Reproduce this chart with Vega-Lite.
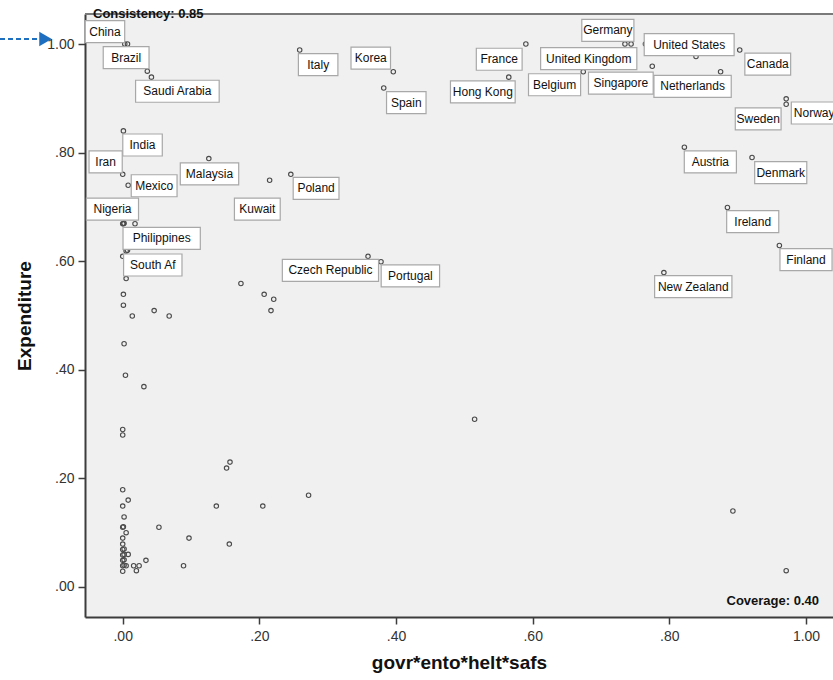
{
  "$schema": "https://vega.github.io/schema/vega-lite/v6.json",
  "width": 748,
  "height": 603,
  "autosize": {"type": "none"},
  "padding": {"left": 85, "top": 14, "right": 0, "bottom": 63},
  "background": "white",
  "config": {
    "view": {"fill": "#f0f0f0", "stroke": null},
    "font": "Liberation Sans"
  },
  "data": {"values": [
    {"country": "China", "govr_ento_helt_safs": 0.003, "expenditure": 1.0, "label_x": -0.026, "label_y": 1.023},
    {"country": "Brazil", "govr_ento_helt_safs": 0.007, "expenditure": 1.0, "label_x": 0.005, "label_y": 0.975},
    {"country": "Saudi Arabia", "govr_ento_helt_safs": 0.042, "expenditure": 0.939, "label_x": 0.080, "label_y": 0.913},
    {"country": "", "govr_ento_helt_safs": 0.036, "expenditure": 0.950},
    {"country": "India", "govr_ento_helt_safs": 0.001, "expenditure": 0.840, "label_x": 0.029, "label_y": 0.814},
    {"country": "Iran", "govr_ento_helt_safs": 0.0, "expenditure": 0.760, "label_x": -0.025, "label_y": 0.783},
    {"country": "Mexico", "govr_ento_helt_safs": 0.008, "expenditure": 0.740, "label_x": 0.046, "label_y": 0.739},
    {"country": "Malaysia", "govr_ento_helt_safs": 0.126, "expenditure": 0.789, "label_x": 0.127, "label_y": 0.761},
    {"country": "Kuwait", "govr_ento_helt_safs": 0.215, "expenditure": 0.749, "label_x": 0.197, "label_y": 0.696},
    {"country": "Nigeria", "govr_ento_helt_safs": 0.001, "expenditure": 0.669, "label_x": -0.015, "label_y": 0.696},
    {"country": "Philippines", "govr_ento_helt_safs": 0.018, "expenditure": 0.669, "label_x": 0.057, "label_y": 0.642},
    {"country": "South Af", "govr_ento_helt_safs": 0.005, "expenditure": 0.619, "label_x": 0.044, "label_y": 0.593},
    {"country": "Italy", "govr_ento_helt_safs": 0.259, "expenditure": 0.989, "label_x": 0.286, "label_y": 0.962},
    {"country": "Korea", "govr_ento_helt_safs": 0.396, "expenditure": 0.949, "label_x": 0.363, "label_y": 0.974},
    {"country": "Spain", "govr_ento_helt_safs": 0.382, "expenditure": 0.919, "label_x": 0.415, "label_y": 0.892},
    {"country": "France", "govr_ento_helt_safs": 0.590, "expenditure": 1.0, "label_x": 0.551, "label_y": 0.972},
    {"country": "Hong Kong", "govr_ento_helt_safs": 0.565, "expenditure": 0.939, "label_x": 0.527, "label_y": 0.912},
    {"country": "Poland", "govr_ento_helt_safs": 0.246, "expenditure": 0.760, "label_x": 0.283, "label_y": 0.734},
    {"country": "Germany", "govr_ento_helt_safs": 0.744, "expenditure": 1.0, "label_x": 0.710, "label_y": 1.025},
    {"country": "United Kingdom", "govr_ento_helt_safs": 0.735, "expenditure": 1.0, "label_x": 0.682, "label_y": 0.973},
    {"country": "Belgium", "govr_ento_helt_safs": 0.674, "expenditure": 0.949, "label_x": 0.632, "label_y": 0.925},
    {"country": "Singapore", "govr_ento_helt_safs": 0.775, "expenditure": 0.959, "label_x": 0.729, "label_y": 0.928},
    {"country": "United States", "govr_ento_helt_safs": 0.765, "expenditure": 1.0, "label_x": 0.829, "label_y": 0.999},
    {"country": "", "govr_ento_helt_safs": 0.839, "expenditure": 0.977},
    {"country": "Canada", "govr_ento_helt_safs": 0.903, "expenditure": 0.989, "label_x": 0.944, "label_y": 0.963},
    {"country": "Netherlands", "govr_ento_helt_safs": 0.875, "expenditure": 0.949, "label_x": 0.834, "label_y": 0.922},
    {"country": "Norway", "govr_ento_helt_safs": 0.971, "expenditure": 0.899, "label_x": 1.012, "label_y": 0.873},
    {"country": "Sweden", "govr_ento_helt_safs": 0.971, "expenditure": 0.889, "label_x": 0.930, "label_y": 0.862},
    {"country": "Austria", "govr_ento_helt_safs": 0.822, "expenditure": 0.810, "label_x": 0.860, "label_y": 0.783},
    {"country": "Denmark", "govr_ento_helt_safs": 0.921, "expenditure": 0.791, "label_x": 0.963, "label_y": 0.763},
    {"country": "Ireland", "govr_ento_helt_safs": 0.885, "expenditure": 0.699, "label_x": 0.922, "label_y": 0.673},
    {"country": "Finland", "govr_ento_helt_safs": 0.961, "expenditure": 0.629, "label_x": 1.000, "label_y": 0.603},
    {"country": "New Zealand", "govr_ento_helt_safs": 0.792, "expenditure": 0.579, "label_x": 0.835, "label_y": 0.553},
    {"country": "Czech Republic", "govr_ento_helt_safs": 0.359, "expenditure": 0.609, "label_x": 0.304, "label_y": 0.583},
    {"country": "Portugal", "govr_ento_helt_safs": 0.378, "expenditure": 0.599, "label_x": 0.421, "label_y": 0.573},
    {"country": "", "govr_ento_helt_safs": 0.005, "expenditure": 0.568},
    {"country": "", "govr_ento_helt_safs": 0.0, "expenditure": 0.609},
    {"country": "", "govr_ento_helt_safs": 0.0, "expenditure": 0.669},
    {"country": "", "govr_ento_helt_safs": 0.002, "expenditure": 0.670},
    {"country": "", "govr_ento_helt_safs": 0.007, "expenditure": 0.620},
    {"country": "", "govr_ento_helt_safs": 0.001, "expenditure": 0.539},
    {"country": "", "govr_ento_helt_safs": 0.001, "expenditure": 0.519},
    {"country": "", "govr_ento_helt_safs": 0.014, "expenditure": 0.499},
    {"country": "", "govr_ento_helt_safs": 0.046, "expenditure": 0.509},
    {"country": "", "govr_ento_helt_safs": 0.068, "expenditure": 0.499},
    {"country": "", "govr_ento_helt_safs": 0.002, "expenditure": 0.448},
    {"country": "", "govr_ento_helt_safs": 0.004, "expenditure": 0.390},
    {"country": "", "govr_ento_helt_safs": 0.031, "expenditure": 0.369},
    {"country": "", "govr_ento_helt_safs": 0.173, "expenditure": 0.559},
    {"country": "", "govr_ento_helt_safs": 0.207, "expenditure": 0.539},
    {"country": "", "govr_ento_helt_safs": 0.221, "expenditure": 0.530},
    {"country": "", "govr_ento_helt_safs": 0.217, "expenditure": 0.509},
    {"country": "", "govr_ento_helt_safs": 0.0, "expenditure": 0.290},
    {"country": "", "govr_ento_helt_safs": 0.0, "expenditure": 0.280},
    {"country": "", "govr_ento_helt_safs": 0.152, "expenditure": 0.219},
    {"country": "", "govr_ento_helt_safs": 0.157, "expenditure": 0.230},
    {"country": "", "govr_ento_helt_safs": 0.0, "expenditure": 0.179},
    {"country": "", "govr_ento_helt_safs": 0.008, "expenditure": 0.160},
    {"country": "", "govr_ento_helt_safs": 0.0, "expenditure": 0.149},
    {"country": "", "govr_ento_helt_safs": 0.137, "expenditure": 0.149},
    {"country": "", "govr_ento_helt_safs": 0.205, "expenditure": 0.149},
    {"country": "", "govr_ento_helt_safs": 0.002, "expenditure": 0.129},
    {"country": "", "govr_ento_helt_safs": 0.0, "expenditure": 0.110},
    {"country": "", "govr_ento_helt_safs": 0.001, "expenditure": 0.111},
    {"country": "", "govr_ento_helt_safs": 0.053, "expenditure": 0.110},
    {"country": "", "govr_ento_helt_safs": 0.005, "expenditure": 0.100},
    {"country": "", "govr_ento_helt_safs": 0.0, "expenditure": 0.090},
    {"country": "", "govr_ento_helt_safs": 0.097, "expenditure": 0.090},
    {"country": "", "govr_ento_helt_safs": 0.0, "expenditure": 0.079},
    {"country": "", "govr_ento_helt_safs": 0.156, "expenditure": 0.079},
    {"country": "", "govr_ento_helt_safs": 0.0, "expenditure": 0.069},
    {"country": "", "govr_ento_helt_safs": 0.002, "expenditure": 0.070},
    {"country": "", "govr_ento_helt_safs": 0.0, "expenditure": 0.059},
    {"country": "", "govr_ento_helt_safs": 0.002, "expenditure": 0.060},
    {"country": "", "govr_ento_helt_safs": 0.008, "expenditure": 0.060},
    {"country": "", "govr_ento_helt_safs": 0.0, "expenditure": 0.049},
    {"country": "", "govr_ento_helt_safs": 0.002, "expenditure": 0.050},
    {"country": "", "govr_ento_helt_safs": 0.034, "expenditure": 0.049},
    {"country": "", "govr_ento_helt_safs": 0.0, "expenditure": 0.039},
    {"country": "", "govr_ento_helt_safs": 0.002, "expenditure": 0.040},
    {"country": "", "govr_ento_helt_safs": 0.005, "expenditure": 0.039},
    {"country": "", "govr_ento_helt_safs": 0.016, "expenditure": 0.039},
    {"country": "", "govr_ento_helt_safs": 0.024, "expenditure": 0.039},
    {"country": "", "govr_ento_helt_safs": 0.089, "expenditure": 0.039},
    {"country": "", "govr_ento_helt_safs": 0.0, "expenditure": 0.029},
    {"country": "", "govr_ento_helt_safs": 0.020, "expenditure": 0.030},
    {"country": "", "govr_ento_helt_safs": 0.272, "expenditure": 0.169},
    {"country": "", "govr_ento_helt_safs": 0.515, "expenditure": 0.309},
    {"country": "", "govr_ento_helt_safs": 0.893, "expenditure": 0.140},
    {"country": "", "govr_ento_helt_safs": 0.971, "expenditure": 0.030}
  ]},
  "layer": [
    {
      "mark": {"type": "point", "filled": false, "size": 20, "stroke": "#4a4a4a", "strokeWidth": 1.1, "opacity": 1},
      "encoding": {
        "x": {
          "field": "govr_ento_helt_safs", "type": "quantitative",
          "scale": {"domain": [-0.0552, 1.0395], "nice": false, "zero": false},
          "axis": {
            "title": "govr*ento*helt*safs", "values": [0, 0.2, 0.4, 0.6, 0.8, 1.0],
            "labelExpr": "datum.value >= 1 ? '1.00' : slice(format(datum.value, '.2f'), 1)",
            "grid": false, "domainColor": "#3c3c3c", "domainWidth": 2, "tickColor": "#3c3c3c", "tickWidth": 1.5, "tickSize": 7,
            "labelFont": "Liberation Sans", "labelFontSize": 14, "labelColor": "#333333", "labelPadding": 5,
            "titleFont": "Liberation Sans", "titleFontSize": 19, "titleFontWeight": "bold", "titleColor": "#111111", "titlePadding": 10
          }
        },
        "y": {
          "field": "expenditure", "type": "quantitative",
          "scale": {"domain": [-0.0553, 1.0553], "nice": false, "zero": false},
          "axis": {
            "title": "Expenditure", "values": [0, 0.2, 0.4, 0.6, 0.8, 1.0],
            "labelExpr": "datum.value >= 1 ? '1.00' : slice(format(datum.value, '.2f'), 1)",
            "grid": false, "domainColor": "#3c3c3c", "domainWidth": 2, "tickColor": "#3c3c3c", "tickWidth": 1.5, "tickSize": 7,
            "labelFont": "Liberation Sans", "labelFontSize": 14, "labelColor": "#333333", "labelPadding": 4,
            "titleFont": "Liberation Sans", "titleFontSize": 19, "titleFontWeight": "bold", "titleColor": "#111111", "titlePadding": 12
          }
        }
      }
    },
    {
      "data": {"values": [{}]},
      "mark": {"type": "rule", "stroke": "#7a7a7a", "strokeWidth": 2},
      "encoding": {
        "y": {"datum": 1.0553, "type": "quantitative"}
      }
    },
    {
      "transform": [{"filter": "isValid(datum.label_x)"}],
      "mark": {"type": "rect", "fill": "white", "stroke": "#a8a8a8", "strokeWidth": 1.2, "height": 22, "width": {"expr": "length(datum.country) * 6.3 + 8"}},
      "encoding": {
        "x": {"field": "label_x", "type": "quantitative"},
        "y": {"field": "label_y", "type": "quantitative"}
      }
    },
    {
      "transform": [{"filter": "isValid(datum.label_x)"}],
      "mark": {"type": "text", "align": "center", "baseline": "middle", "font": "Liberation Sans", "fontSize": 12, "color": "#111111"},
      "encoding": {
        "x": {"field": "label_x", "type": "quantitative"},
        "y": {"field": "label_y", "type": "quantitative"},
        "text": {"field": "country"}
      }
    },
    {
      "data": {"values": [{}]},
      "mark": {"type": "rule", "stroke": "#1f6fc0", "strokeWidth": 2, "strokeDash": [5, 3], "clip": false},
      "encoding": {
        "x": {"datum": -0.1796, "type": "quantitative"},
        "x2": {"datum": -0.125},
        "y": {"datum": 1.0092, "type": "quantitative"}
      }
    },
    {
      "data": {"values": [{}]},
      "mark": {"type": "point", "shape": "triangle-right", "filled": true, "fill": "#1f6fc0", "size": 210, "opacity": 1, "clip": false},
      "encoding": {
        "x": {"datum": -0.113, "type": "quantitative"},
        "y": {"datum": 1.0092, "type": "quantitative"}
      }
    },
    {
      "data": {"values": [{"note": "Consistency: 0.85"}]},
      "mark": {"type": "text", "align": "left", "baseline": "middle", "font": "Liberation Sans", "fontSize": 13, "fontWeight": "bold", "color": "#111111"},
      "encoding": {
        "x": {"datum": -0.0435, "type": "quantitative"},
        "y": {"datum": 1.0553, "type": "quantitative"},
        "text": {"field": "note"}
      }
    },
    {
      "data": {"values": [{"note": "Coverage: 0.40"}]},
      "mark": {"type": "text", "align": "right", "baseline": "middle", "font": "Liberation Sans", "fontSize": 13, "fontWeight": "bold", "color": "#111111"},
      "encoding": {
        "x": {"datum": 1.019, "type": "quantitative"},
        "y": {"datum": -0.026, "type": "quantitative"},
        "text": {"field": "note"}
      }
    }
  ]
}
